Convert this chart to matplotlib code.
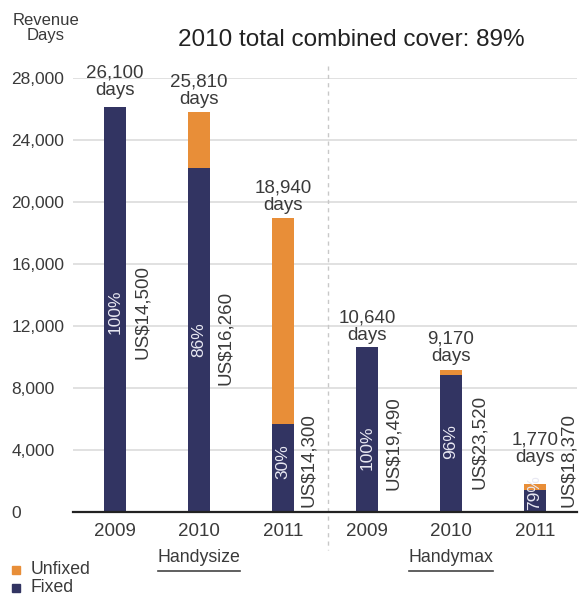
import numpy as np
import matplotlib
matplotlib.use("Agg")
import matplotlib.pyplot as plt
from matplotlib.patches import Rectangle
from matplotlib.lines import Line2D

plt.rcParams['font.family'] = ['Liberation Sans', 'DejaVu Sans']

# data
years = ['2009', '2010', '2011', '2009', '2010', '2011']
groups = ['Handysize', 'Handymax']
total_days = np.array([26100, 25810, 18940, 10640, 9170, 1770])
fixed_pct = np.array([100, 86, 30, 100, 96, 79])
rates = ['US$14,500', 'US$16,260', 'US$14,300', 'US$19,490', 'US$23,520', 'US$18,370']
legend_labels = ['Unfixed', 'Fixed']
yticks = [0, 4000, 8000, 12000, 16000, 20000, 24000, 28000]

fixed_days = total_days * fixed_pct / 100
unfixed_days = total_days - fixed_days

# layout of the text labels
pct_y = [12900, 11100, 3200, 4100, 4500, 1200]
rate_y = [12900, 11200, 3300, 4400, 4500, 3300]
rate_dx = [0.33, 0.31, 0.30, 0.32, 0.34, 0.40]
top_pad = [6, 3, 3, 2, 3, 13]

navy = '#323462'
orange = '#e88e38'
txt = '#3a3a3a'

W, H = 582, 597
fig = plt.figure(figsize=(W / 100, H / 100), dpi=100)
ax = fig.add_axes([73 / W, 1 - 511.5 / H, 504 / W, 433.5 / H])

x = np.arange(len(years))
bw = 0.27
ax.bar(x, fixed_days, bw, color=navy, zorder=3)
ax.bar(x, unfixed_days, bw, bottom=fixed_days, color=orange, zorder=3)

ax.set_xlim(-0.5, 5.5)
ax.set_ylim(0, 28000)
ax.set_yticks(yticks)
ax.set_yticklabels([f'{v:,}' for v in yticks])
ax.set_xticks(x)
ax.set_xticklabels(years)
ax.tick_params(axis='y', length=0, pad=44.5, labelsize=12.5, labelcolor=txt)
ax.tick_params(axis='x', length=0, pad=8, labelsize=13.5, labelcolor=txt)
for lab in ax.get_yticklabels():
    lab.set_ha('left')
for s in ['left', 'right', 'top']:
    ax.spines[s].set_visible(False)
ax.spines['bottom'].set_color('#222222')
ax.spines['bottom'].set_linewidth(1.6)
ax.spines['bottom'].set_zorder(4)
ax.yaxis.grid(True, color='#dcdcdc', lw=1.2, zorder=0)
ax.set_axisbelow(True)

# separator between the two groups
ax.plot([2.54, 2.54], [28800, -2500], ls=(0, (3, 3)), color='#c8c8c8', lw=1,
        clip_on=False, zorder=1)

for i in range(len(x)):
    ax.annotate(f'{total_days[i]:,}\ndays', (x[i], total_days[i]),
                xytext=(0, top_pad[i]), textcoords='offset points',
                ha='center', va='bottom', fontsize=13.5, color=txt,
                linespacing=1.05, zorder=5)
    ax.text(x[i], pct_y[i], f'{fixed_pct[i]}%', rotation=90, ha='center',
            va='center', fontsize=12.5, color='#e8e8f2', zorder=5)
    ax.text(x[i] + rate_dx[i], rate_y[i], rates[i], rotation=90, ha='center',
            va='center', fontsize=13.5, color=txt, zorder=5)

fig.text(351 / W, 1 - 40 / H, '2010 total combined cover: 89%', ha='center',
         va='center', fontsize=17.5, color='#222222')
fig.text(46 / W, 1 - 28 / H, 'Revenue\nDays', ha='center', va='center',
         fontsize=12, color=txt, linespacing=1.05)

# group labels with underline
gtexts = []
for gi, g in enumerate(groups):
    t = ax.text(1 + 3 * gi, -(558 - 511.5) / 433.5, g,
                transform=ax.get_xaxis_transform(),
                ha='center', va='center', fontsize=12.8, color=txt)
    gtexts.append(t)
fig.canvas.draw()
for t in gtexts:
    bb = t.get_window_extent()
    fig.add_artist(Line2D([bb.x0 / W, bb.x1 / W], [1 - 571 / H, 1 - 571 / H],
                          transform=fig.transFigure, color='#444444', lw=1.2))

# legend
for c, lab, yc in [(orange, legend_labels[0], 570), (navy, legend_labels[1], 588)]:
    fig.add_artist(Rectangle((12 / W, 1 - (yc + 4) / H), 8 / W, 8 / H,
                             transform=fig.transFigure, color=c))
    fig.text(31 / W, 1 - yc / H, lab, ha='left', va='center', fontsize=12.7,
             color=txt)

fig.savefig('out.png', dpi=100)
